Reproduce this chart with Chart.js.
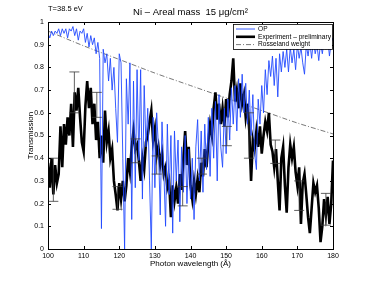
<!DOCTYPE html>
<html>
<head>
<meta charset="utf-8">
<script src="https://cdn.jsdelivr.net/npm/chart.js@4"></script>
<style>
  html, body { margin: 0; padding: 0; background: #fff; }
  canvas { display: block; }
</style>
</head>
<body>
<canvas id="chart" width="368" height="281"></canvas>
<script>
'use strict';

// ---- data ----
const wavelength = [
  100, 100.5, 101, 101.5, 102, 102.5, 103, 103.5, 104, 104.5,
  105, 105.5, 106, 106.5, 107, 107.5, 108, 108.5, 109, 109.5,
  110, 110.5, 111, 111.5, 112, 112.5, 113, 113.5, 114, 114.5,
  115, 115.5, 116, 116.5, 117, 117.5, 118, 118.5, 119, 119.5,
  120, 120.5, 121, 121.5, 122, 122.5, 123, 123.5, 124, 124.5,
  125, 125.5, 126, 126.5, 127, 127.5, 128, 128.5, 129, 129.5,
  130, 130.5, 131, 131.5, 132, 132.5, 133, 133.5, 134, 134.5,
  135, 135.5, 136, 136.5, 137, 137.5, 138, 138.5, 139, 139.5,
  140, 140.5, 141, 141.5, 142, 142.5, 143, 143.5, 144, 144.5,
  145, 145.5, 146, 146.5, 147, 147.5, 148, 148.5, 149, 149.5,
  150, 150.5, 151, 151.5, 152, 152.5, 153, 153.5, 154, 154.5,
  155, 155.5, 156, 156.5, 157, 157.5, 158, 158.5, 159, 159.5,
  160, 160.5, 161, 161.5, 162, 162.5, 163, 163.5, 164, 164.5,
  165, 165.5, 166, 166.5, 167, 167.5, 168, 168.5, 169, 169.5,
  170, 170.5, 171, 171.5, 172, 172.5, 173, 173.5, 174, 174.5,
  175, 175.5, 176, 176.5, 177, 177.5, 178, 178.5, 179, 179.5,
  180
];

const opValues = [
  0.95, 0.93, 0.96, 0.94, 0.96, 0.95, 0.97, 0.94, 0.97, 0.95,
  0.97, 0.93, 0.97, 0.96, 0.98, 0.94, 0.97, 0.92, 0.96, 0.95,
  0.97, 0.91, 0.95, 0.89, 0.94, 0.90, 0.93, 0.86, 0.91, 0.84,
  0.09, 0.88, 0.82, 0.86, 0.74, 0.84, 0.70, 0.80, 0.62, 0.47,
  0.86, 0.82, 0.40, 0.00, 0.75, 0.55, 0.82, 0.13, 0.74, 0.27,
  0.79, 0.39, 0.79, 0.22, 0.72, 0.45, 0.62, 0.30, 0.00, 0.58,
  0.27, 0.60, 0.45, 0.15, 0.56, 0.35, 0.10, 0.55, 0.24, 0.50,
  0.07, 0.52, 0.30, 0.48, 0.12, 0.45, 0.25, 0.50, 0.20, 0.44,
  0.22, 0.40, 0.13, 0.45, 0.57, 0.30, 0.52, 0.25, 0.55, 0.35,
  0.58, 0.32, 0.62, 0.40, 0.65, 0.30, 0.68, 0.45, 0.36, 0.62,
  0.42, 0.66, 0.48, 0.71, 0.55, 0.72, 0.52, 0.75, 0.58, 0.77,
  0.60, 0.73, 0.55, 0.70, 0.50, 0.68, 0.42, 0.35, 0.66, 0.55,
  0.72, 0.60, 0.79, 0.68, 0.83, 0.76, 0.85, 0.72, 0.84, 0.67,
  0.86, 0.78, 0.87, 0.80, 0.88, 0.78, 0.89, 0.82, 0.88, 0.79,
  0.90, 0.84, 0.89, 0.82, 0.77, 0.90, 0.85, 0.91, 0.84, 0.92,
  0.86, 0.90, 0.83, 0.91, 0.86, 0.92, 0.88, 0.93, 0.85, 0.91,
  0.93
];

const expValues = [
  0.38, 0.27, 0.40, 0.24, 0.37, 0.29, 0.33, 0.54, 0.36, 0.55,
  0.46, 0.58, 0.50, 0.64, 0.45, 0.69, 0.61, 0.71, 0.58, 0.47,
  0.43, 0.63, 0.74, 0.62, 0.71, 0.55, 0.64, 0.48, 0.56, 0.40,
  0.50, 0.38, 0.61, 0.47, 0.52, 0.40, 0.44, 0.30, 0.24, 0.17,
  0.29, 0.22, 0.30, 0.21, 0.28, 0.40, 0.34, 0.45, 0.52, 0.44,
  0.46, 0.39, 0.30, 0.40, 0.35, 0.47, 0.50, 0.56, 0.61, 0.48,
  0.53, 0.41, 0.45, 0.37, 0.42, 0.33, 0.36, 0.27, 0.30, 0.14,
  0.28, 0.21, 0.27, 0.20, 0.33, 0.26, 0.40, 0.52, 0.37, 0.45,
  0.28, 0.22, 0.30, 0.24, 0.31, 0.25, 0.38, 0.32, 0.44, 0.36,
  0.47, 0.55, 0.50, 0.62, 0.69, 0.57, 0.64, 0.55, 0.62, 0.54,
  0.66, 0.58, 0.68, 0.74, 0.84, 0.65, 0.70, 0.62, 0.73, 0.64,
  0.68, 0.58, 0.64, 0.52, 0.30, 0.48, 0.44, 0.52, 0.45, 0.54,
  0.42, 0.50, 0.56, 0.52, 0.60, 0.46, 0.43, 0.36, 0.44, 0.30,
  0.17, 0.40, 0.45, 0.28, 0.16, 0.36, 0.46, 0.40, 0.45, 0.34,
  0.28, 0.36, 0.11, 0.29, 0.33, 0.24, 0.14, 0.07, 0.18, 0.29,
  0.25, 0.28, 0.18, 0.03, 0.10, 0.22, 0.15, 0.23, 0.11, 0.20,
  0.39
];

const rossWavelength = [100, 110, 120, 130, 140, 150, 160, 170, 180];
const rossValues = [0.96, 0.895, 0.835, 0.775, 0.72, 0.665, 0.61, 0.555, 0.507];

const errWavelength = [101.5, 107.4, 113.7, 119.5, 124.6, 130.5, 137.8, 143.2, 150.2, 156.4, 163.8, 170.5, 178.0];
const errLow  = [0.21, 0.60, 0.58, 0.175, 0.38, 0.33, 0.19, 0.33, 0.455, 0.40, 0.377, 0.17, 0.105];
const errHigh = [0.40, 0.78, 0.69, 0.275, 0.485, 0.41, 0.275, 0.40, 0.54, 0.60, 0.48, 0.30, 0.245];

const xTicks = [100, 110, 120, 130, 140, 150, 160, 170, 180];
const yTicks = [0, 0.1, 0.2, 0.3, 0.4, 0.5, 0.6, 0.7, 0.8, 0.9, 1];

const titleText = 'Ni \u2013 Areal mass  15 \u03bcg/cm\u00b2';
const tempText = 'T=38.5 eV';
const xTitle = 'Photon wavelength (\u00c5)';
const yTitle = 'Transmission';

const FONT = "'Liberation Sans', Arial, sans-serif";

// ---- helpers ----
const pairs = (xs, ys) => xs.map((x, i) => ({ x, y: ys[i] }));

// box, inward ticks, error bars, legend and the text labels
const decor = {
  id: 'decor',
  afterDatasetsDraw(chart) {
    const { ctx, chartArea: a, scales: { x, y } } = chart;
    ctx.save();

    // error bars
    ctx.strokeStyle = '#3a3a3a';
    ctx.lineWidth = 0.8;
    errWavelength.forEach((w, i) => {
      const px = x.getPixelForValue(w);
      const lo = y.getPixelForValue(errLow[i]);
      const hi = y.getPixelForValue(errHigh[i]);
      ctx.beginPath();
      ctx.moveTo(px, lo); ctx.lineTo(px, hi);
      ctx.moveTo(px - 5, lo); ctx.lineTo(px + 5, lo);
      ctx.moveTo(px - 5, hi); ctx.lineTo(px + 5, hi);
      ctx.stroke();
    });

    // axes box + inward ticks
    ctx.strokeStyle = '#000';
    ctx.lineWidth = 1;
    ctx.strokeRect(a.left + 0.5, a.top + 0.5, a.right - a.left, a.bottom - a.top);
    ctx.beginPath();
    xTicks.forEach(v => {
      const px = Math.round(x.getPixelForValue(v)) + 0.5;
      ctx.moveTo(px, a.bottom); ctx.lineTo(px, a.bottom - 3);
      ctx.moveTo(px, a.top); ctx.lineTo(px, a.top + 3);
    });
    yTicks.forEach(v => {
      const py = Math.round(y.getPixelForValue(v)) + 0.5;
      ctx.moveTo(a.left, py); ctx.lineTo(a.left + 3, py);
      ctx.moveTo(a.right, py); ctx.lineTo(a.right - 3, py);
    });
    ctx.stroke();

    // legend
    const lx = 233, ly = 24, lw = 99, lh = 25;
    ctx.fillStyle = '#fff';
    ctx.fillRect(lx, ly, lw, lh);
    ctx.strokeStyle = '#000';
    ctx.lineWidth = 0.8;
    ctx.strokeRect(lx + 0.5, ly + 0.5, lw, lh);
    ctx.font = '6.6px ' + FONT;
    ctx.textBaseline = 'middle';
    ctx.textAlign = 'left';
    chart.data.datasets.forEach((ds, i) => {
      const ry = ly + 5 + i * 7.8;
      ctx.save();
      ctx.strokeStyle = ds.borderColor;
      ctx.lineWidth = ds.borderWidth;
      ctx.setLineDash(ds.borderDash || []);
      ctx.beginPath();
      ctx.moveTo(lx + 3, ry); ctx.lineTo(lx + 22, ry);
      ctx.stroke();
      ctx.restore();
      ctx.fillStyle = '#000';
      ctx.fillText(ds.label, lx + 25, ry);
    });

    // texts
    ctx.fillStyle = '#000';
    ctx.textAlign = 'center';
    ctx.font = '9.5px ' + FONT;
    ctx.fillText(titleText, (a.left + a.right) / 2, 12.5);
    ctx.textAlign = 'left';
    ctx.font = '7.5px ' + FONT;
    ctx.fillText(tempText, a.left, 9);
    ctx.textAlign = 'center';
    ctx.font = '8px ' + FONT;
    ctx.fillText(xTitle, (a.left + a.right) / 2, 264);
    ctx.save();
    ctx.translate(30.5, (a.top + a.bottom) / 2);
    ctx.rotate(-Math.PI / 2);
    ctx.fillText(yTitle, 0, 0);
    ctx.restore();

    ctx.restore();
  }
};

new Chart(document.getElementById('chart').getContext('2d'), {
  type: 'line',
  data: {
    datasets: [
      {
        label: 'OP',
        data: pairs(wavelength, opValues),
        borderColor: '#2149ff',
        borderWidth: 0.9,
        pointRadius: 0,
        tension: 0
      },
      {
        label: 'Experiment \u2013 preliminary',
        data: pairs(wavelength, expValues),
        borderColor: '#000',
        borderWidth: 2.6,
        pointRadius: 0,
        tension: 0
      },
      {
        label: 'Rosseland weight',
        data: pairs(rossWavelength, rossValues),
        borderColor: '#555',
        borderWidth: 0.8,
        borderDash: [5, 2, 1, 2],
        pointRadius: 0,
        tension: 0.3
      }
    ]
  },
  options: {
    responsive: false,
    animation: false,
    layout: { padding: { top: 22, right: 35, left: 0, bottom: 0 } },
    plugins: { legend: { display: false }, title: { display: false }, tooltip: { enabled: false } },
    scales: {
      x: {
        type: 'linear', min: 100, max: 180,
        afterBuildTicks: s => { s.ticks = xTicks.map(v => ({ value: v })); },
        afterFit: s => { s.height = 32; },
        grid: { display: false, drawTicks: false },
        border: { display: false },
        ticks: { color: '#000', font: { family: FONT, size: 7 }, padding: 3, maxRotation: 0, autoSkip: false,
          callback: v => String(v) }
      },
      y: {
        type: 'linear', min: 0, max: 1,
        afterBuildTicks: s => { s.ticks = yTicks.map(v => ({ value: v })); },
        afterFit: s => { s.width = 48; },
        grid: { display: false, drawTicks: false },
        border: { display: false },
        ticks: { color: '#000', font: { family: FONT, size: 7 }, padding: 4, autoSkip: false,
          callback: v => String(v) }
      }
    }
  },
  plugins: [decor]
});
</script>
</body>
</html>
